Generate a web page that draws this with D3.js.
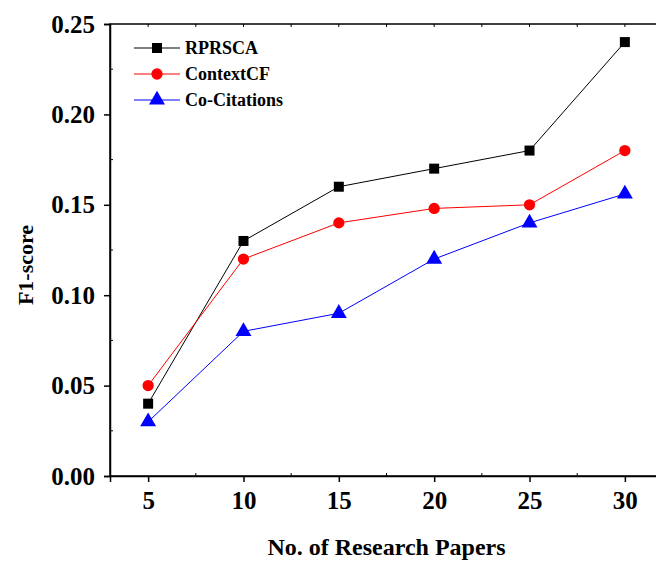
<!DOCTYPE html>
<html>
<head>
<meta charset="utf-8">
<script src="https://cdn.jsdelivr.net/npm/d3@7"></script>
<style>
  body { margin: 0; background: #fff; }
  text { font-family: "Liberation Serif", "Times New Roman", serif; font-weight: bold; }
</style>
</head>
<body>
<div id="chart"></div>
<script>
// Data
let papers = [5, 10, 15, 20, 25, 30];
let rprsca = [0.04, 0.13, 0.16, 0.17, 0.18, 0.24];
let contextCF = [0.05, 0.12, 0.14, 0.148, 0.15, 0.18];
let coCitations = [0.03, 0.08, 0.09, 0.12, 0.14, 0.156];
let seriesNames = ["RPRSCA", "ContextCF", "Co-Citations"];
let seriesColors = ["#000000", "#ff0000", "#0000ff"];
let seriesShapes = [d3.symbolSquare, d3.symbolCircle, d3.symbolTriangle];
let yTicks = [0, 0.05, 0.10, 0.15, 0.20, 0.25];

let width = 656, height = 561;
let margin = { left: 110, top: 24, right: -7, bottom: 85 };

let x = d3.scaleLinear().domain([3, 32]).range([margin.left, width - margin.right]);
let y = d3.scaleLinear().domain([0, 0.25]).range([height - margin.bottom, margin.top]);

let svg = d3.select("#chart").append("svg")
  .attr("width", width)
  .attr("height", height);

// Frame
svg.append("rect")
  .attr("x", x(3)).attr("y", y(0.25))
  .attr("width", x(32) - x(3)).attr("height", y(0) - y(0.25))
  .attr("fill", "none").attr("stroke", "#000").attr("stroke-width", 1.5);

// Bottom axis
let xAxis = svg.append("g")
  .attr("transform", "translate(0," + y(0) + ")")
  .call(d3.axisBottom(x).tickValues(papers).tickSize(6).tickPadding(9).tickFormat(d3.format("d")));
xAxis.select(".domain").attr("stroke-width", 1.5);
xAxis.selectAll("line").attr("stroke-width", 1.5);
xAxis.selectAll("text").attr("font-size", 25).attr("fill", "#000")
  .style("font-family", "Liberation Serif").style("font-weight", "bold");

// Minor ticks bottom (inward) and top (inward)
let minorX = d3.range(7.5, 32, 5);
svg.append("g").selectAll("line").data(minorX).enter().append("line")
  .attr("x1", d => x(d)).attr("x2", d => x(d))
  .attr("y1", y(0)).attr("y2", y(0) - 3)
  .attr("stroke", "#000").attr("stroke-width", 1);
svg.append("g").selectAll("line").data(papers.concat(minorX)).enter().append("line")
  .attr("x1", d => x(d)).attr("x2", d => x(d))
  .attr("y1", y(0.25)).attr("y2", y(0.25) + 3)
  .attr("stroke", "#000").attr("stroke-width", 1);

// Left axis
let yAxis = svg.append("g")
  .attr("transform", "translate(" + x(3) + ",0)")
  .call(d3.axisLeft(y).tickValues(yTicks).tickSize(6).tickPadding(9).tickFormat(d3.format(".2f")));
yAxis.select(".domain").attr("stroke-width", 1.5);
yAxis.selectAll("line").attr("stroke-width", 1.5);
yAxis.selectAll("text").attr("font-size", 25).attr("fill", "#000")
  .style("font-family", "Liberation Serif").style("font-weight", "bold");

let minorY = d3.range(0.025, 0.25, 0.05);
svg.append("g").selectAll("line").data(minorY).enter().append("line")
  .attr("x1", x(3)).attr("x2", x(3) + 3)
  .attr("y1", d => y(d)).attr("y2", d => y(d))
  .attr("stroke", "#000").attr("stroke-width", 1);

// Axis titles
svg.append("text")
  .attr("x", (x(3) + x(32)) / 2).attr("y", 555)
  .attr("text-anchor", "middle").attr("font-size", 24)
  .text("No. of Research Papers");
svg.append("text")
  .attr("transform", "translate(33,265) rotate(-90)")
  .attr("text-anchor", "middle").attr("font-size", 22)
  .text("F1-score");

// Series
let allSeries = [rprsca, contextCF, coCitations];
let line = d3.line().x((d, i) => x(papers[i])).y(d => y(d));
let symbolSizes = [100, 100, 110];

allSeries.forEach(function (vals, k) {
  svg.append("path")
    .datum(vals)
    .attr("d", line)
    .attr("fill", "none")
    .attr("stroke", seriesColors[k])
    .attr("stroke-width", 1);
  svg.append("g").selectAll("path")
    .data(vals).enter().append("path")
    .attr("transform", (d, i) => "translate(" + x(papers[i]) + "," + y(d) + ")")
    .attr("d", d3.symbol().type(seriesShapes[k]).size(symbolSizes[k]))
    .attr("fill", seriesColors[k]);
});

// Legend
let legend = svg.append("g").attr("transform", "translate(134,48)");
seriesNames.forEach(function (name, k) {
  let g = legend.append("g").attr("transform", "translate(0," + (k * 26) + ")");
  g.append("line").attr("x1", 0).attr("x2", 46).attr("y1", 0).attr("y2", 0)
    .attr("stroke", seriesColors[k]).attr("stroke-width", 1);
  g.append("path")
    .attr("transform", "translate(23,0)")
    .attr("d", d3.symbol().type(seriesShapes[k]).size(symbolSizes[k]))
    .attr("fill", seriesColors[k]);
  g.append("text").attr("x", 51).attr("y", 6).attr("font-size", 18).text(name);
});
</script>
</body>
</html>
